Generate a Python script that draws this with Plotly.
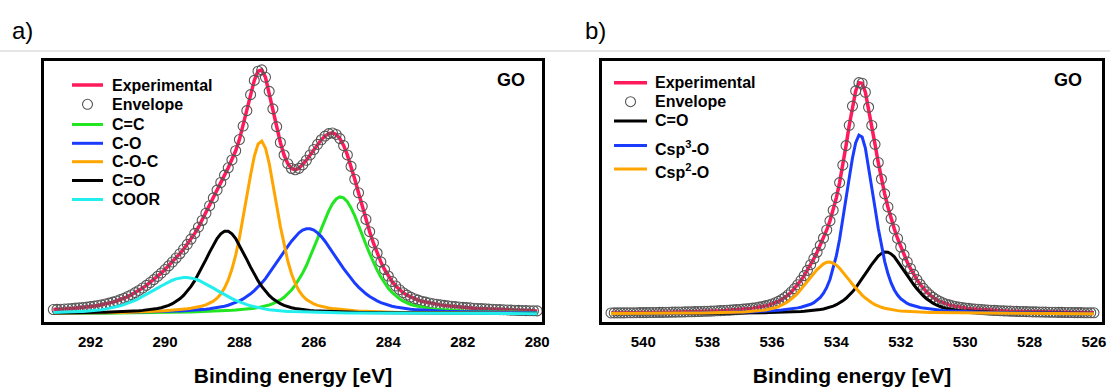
import numpy as np
import plotly.graph_objects as go

W, H = 1110, 387

# ---- C 1s region (panel a) : fitted components ----
c1s_labels = ["C=C", "C-O", "C-O-C", "C=O", "COOR"]
c1s_colors = ["#22e622", "#1a3cff", "#ffa500", "#000000", "#22eeee"]
c1s_center = [285.28, 286.15, 287.42, 288.35, 289.45]   # eV
c1s_height = [0.48, 0.35, 0.71, 0.34, 0.15]               # normalised intensity
c1s_fwhm = [1.60, 2.00, 1.05, 1.45, 2.20]                 # eV
c1s_start, c1s_stop = 293.0, 280.0

# ---- O 1s region (panel b) : fitted components ----
o1s_labels = ["C=O", "Csp<sup>3</sup>-O", "Csp<sup>2</sup>-O"]
o1s_colors = ["#000000", "#1a3cff", "#ffa500"]
o1s_center = [532.46, 533.27, 534.23]
o1s_height = [0.254, 0.735, 0.213]
o1s_fwhm = [1.65, 1.10, 1.65]
o1s_start, o1s_stop = 541.0, 526.0

step = 0.1          # spectrometer step, eV
eta = 0.45          # Lorentzian fraction of the pseudo-Voigt line shape

exp_color = "#ff1a5c"
env_color = "#555555"

c1s_ticks = [292, 290, 288, 286, 284, 282, 280]
o1s_ticks = [540, 538, 536, 534, 532, 530, 528, 526]


def pseudo_voigt(x, center, height, fwhm):
    d = (x - center) / fwhm
    g = np.exp(-4 * np.log(2) * d ** 2)
    l = 1.0 / (1.0 + 4 * d ** 2)
    return height * ((1 - eta) * g + eta * l)


fig = go.Figure()


def add_panel(xa, ya, start, stop, labels, colors, centers, heights, fwhms):
    be = np.round(np.arange(stop, start + step / 2, step), 2)
    comps = [pseudo_voigt(be, c, h, f) for c, h, f in zip(centers, heights, fwhms)]
    env = np.sum(comps, axis=0)
    fig.add_trace(go.Scatter(
        x=be, y=env, mode="lines", name="Experimental",
        line=dict(color=exp_color, width=3.5), xaxis=xa, yaxis=ya))
    fig.add_trace(go.Scatter(
        x=be, y=env, mode="markers", name="Envelope",
        marker=dict(symbol="circle-open", size=10, color=env_color,
                    line=dict(width=1.1, color=env_color)),
        xaxis=xa, yaxis=ya))
    for lab, col, comp in zip(labels, colors, comps):
        fig.add_trace(go.Scatter(
            x=be, y=comp, mode="lines", name=lab,
            line=dict(color=col, width=3), xaxis=xa, yaxis=ya))


add_panel("x", "y", c1s_start, c1s_stop, c1s_labels, c1s_colors,
          c1s_center, c1s_height, c1s_fwhm)
add_panel("x2", "y2", o1s_start, o1s_stop, o1s_labels, o1s_colors,
          o1s_center, o1s_height, o1s_fwhm)

font_family = "Liberation Sans, Arial, sans-serif"
ydom = [1 - 322 / H, 1 - 61 / H]
x1_dom, x1_rng = [44 / W, 542 / W], [293.25, 279.87]
x2_dom, x2_rng = [602 / W, 1102 / W], [541.28, 525.75]


def xaxis_style(domain, rng, ticks):
    # labelled axis: short invisible ticks keep the labels close to the frame
    return dict(
        domain=domain, range=rng, tickvals=ticks, ticktext=[str(t) for t in ticks],
        ticks="outside", ticklen=4, tickwidth=3, tickcolor="rgba(0,0,0,0)",
        showline=True, linewidth=3, linecolor="black", mirror=True,
        showgrid=False, zeroline=False, automargin=False,
        tickfont=dict(family=font_family, size=15, color="black", weight="bold"),
        title=dict(text="Binding energy [eV]", standoff=20,
                   font=dict(family=font_family, size=21, color="black", weight="bold")),
    )


def tick_axis_style(domain, rng, ticks, over, anchor):
    # overlay axis that only draws the long tick marks
    return dict(
        domain=domain, range=rng, tickvals=ticks, overlaying=over, anchor=anchor,
        side="bottom", ticks="outside", ticklen=11, tickwidth=3, tickcolor="black",
        showticklabels=False, showline=False, showgrid=False, zeroline=False,
        automargin=False,
    )


def yaxis_style(anchor):
    return dict(
        domain=ydom, range=[-0.033, 1.037], anchor=anchor,
        showticklabels=False, ticks="", showgrid=False, zeroline=False,
        showline=True, linewidth=3, linecolor="black", mirror=True, automargin=False,
    )


fig.update_layout(
    width=W, height=H,
    margin=dict(l=0, r=0, t=0, b=0),
    paper_bgcolor="white", plot_bgcolor="white",
    xaxis=xaxis_style(x1_dom, x1_rng, c1s_ticks),
    yaxis=yaxis_style("x"),
    xaxis2=xaxis_style(x2_dom, x2_rng, o1s_ticks),
    yaxis2=yaxis_style("x2"),
    xaxis3=tick_axis_style(x1_dom, x1_rng, c1s_ticks, "x", "y"),
    xaxis4=tick_axis_style(x2_dom, x2_rng, o1s_ticks, "x2", "y2"),
    showlegend=False,
)

# ---- legends (swatch + label per trace) ----
legend_font = dict(family=font_family, size=16, color="black", weight="bold")


def px(x):
    return x / W


def py(y):
    return 1 - y / H


def draw_legend(x_line0, x_line1, x_text, rows, entries):
    for (kind, label, color), yc in zip(entries, rows):
        if kind == "line":
            fig.add_shape(type="line", xref="paper", yref="paper",
                          x0=px(x_line0), x1=px(x_line1), y0=py(yc), y1=py(yc),
                          line=dict(color=color, width=3.5 if label == "Experimental" else 3))
        else:
            xc = (x_line0 + x_line1) / 2
            fig.add_shape(type="circle", xref="paper", yref="paper",
                          x0=px(xc - 5), x1=px(xc + 5), y0=py(yc + 5), y1=py(yc - 5),
                          line=dict(color=color, width=1.1))
        shift = -2 if "<sup>" in label else 0
        fig.add_annotation(text=label, xref="paper", yref="paper",
                           x=px(x_text), y=py(yc), xanchor="left", yanchor="middle",
                           yshift=shift, showarrow=False, font=legend_font)


c1s_entries = ([("line", "Experimental", exp_color), ("marker", "Envelope", env_color)]
               + [("line", l, c) for l, c in zip(c1s_labels, c1s_colors)])
o1s_entries = ([("line", "Experimental", exp_color), ("marker", "Envelope", env_color)]
               + [("line", l, c) for l, c in zip(o1s_labels, o1s_colors)])

draw_legend(72, 103, 110, [85, 104.3, 124.5, 143.3, 161.7, 180.5, 199.5], c1s_entries)
draw_legend(614, 647, 653, [82.7, 101.7, 121, 145.5, 169], o1s_entries)

# ---- page decorations ----
fig.add_shape(type="line", xref="paper", yref="paper", x0=0, x1=1,
              y0=py(51), y1=py(51), line=dict(color="#cccccc", width=1))

for txt, xp in [("a)", 10), ("b)", 583)]:
    fig.add_annotation(text=txt, xref="paper", yref="paper", x=px(xp), y=py(30),
                       xanchor="left", yanchor="middle", showarrow=False,
                       font=dict(family=font_family, size=24, color="black"))

for xp in [511, 1068]:
    fig.add_annotation(text="GO", xref="paper", yref="paper", x=px(xp), y=py(80),
                       xanchor="center", yanchor="middle", showarrow=False,
                       font=dict(family=font_family, size=18, color="black", weight="bold"))

fig.write_html("out.html")
